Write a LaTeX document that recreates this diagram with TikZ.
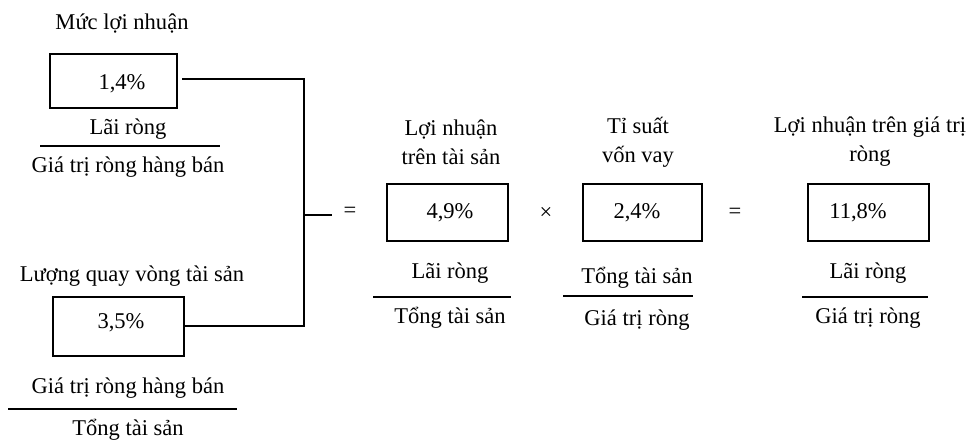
\documentclass[tikz,border=0pt]{standalone}
\usepackage{fontspec}
\setmainfont{Liberation Serif}

\tikzset{every picture/.style={line width=1.5pt}}
\tikzset{txt/.style={inner sep=0.75pt, align=center, font=\fontsize{16.9}{21.75}\selectfont},
  valbox/.style={draw, inner sep=0pt, minimum width=#1*0.75pt, minimum height=57*0.75pt},
  fracline/.style={line width=1.6pt}}

\begin{document}
\begin{tikzpicture}[x=0.75pt,y=0.75pt,yscale=-1,xscale=1]
\useasboundingbox (0,0) rectangle (972,441); %set diagram to 972 x 441

%Shape: Rectangle [id:box1] 
\node [valbox=127, minimum height=54*0.75pt] (box1) at (113.5,81) {};
%Shape: Rectangle [id:box2] 
\node [valbox=131, minimum height=59*0.75pt] (box2) at (118.5,326.5) {};
%Shape: Rectangle [id:box3] 
\node [valbox=121] (box3) at (447.5,212.5) {};
%Shape: Rectangle [id:box4] 
\node [valbox=119] (box4) at (642.5,212.5) {};
%Shape: Rectangle [id:box5] 
\node [valbox=121] (box5) at (868.5,212.5) {};

%Straight Lines [id:join] 
\coordinate (jtop) at (304,79);
\coordinate (jmid) at (304,215);
\coordinate (jout) at (332,215);
\draw    ([xshift=3pt]box1.east |- jtop) -- (jtop) -- (box2.east -| jmid) -- (box2.east) ;
\draw    (jmid) -- (jout) ;

%Straight Lines [id:frac1] 
\draw [fracline]   (40,146) -- (220,146) ;
%Straight Lines [id:frac2] 
\draw [fracline]   (8,409) -- (237,409) ;
%Straight Lines [id:frac3] 
\draw [fracline]   (373,297) -- (511,297) ;
%Straight Lines [id:frac4] 
\draw [fracline]   (563,296) -- (693,296) ;
%Straight Lines [id:frac5] 
\draw [fracline]   (802,297) -- (928,297) ;

% Text Node
\node [txt] (name1) at (122,24) {Mức lợi nhuận};
% Text Node
\node [txt] (val1) at (122,84) {1,4\%};
% Text Node
\node [txt] (num1) at (128,129) {Lãi ròng};
% Text Node
\node [txt] (den1) at (128,167) {Giá trị ròng hàng bán};
% Text Node
\node [txt] (name2) at (132,276) {Lượng quay vòng tài sản};
% Text Node
\node [txt] (val2) at (121,323) {3,5\%};
% Text Node
\node [txt] (num2) at (128,388) {Giá trị ròng hàng bán};
% Text Node
\node [txt] (den2) at (128,430) {Tổng tài sản};
% Text Node
\node [txt] (eq1) at (350,212) {=};
% Text Node
\node [txt] (name3) at (451,142) {Lợi nhuận\\trên tài sản};
% Text Node
\node [txt] (val3) at (450,213) {4,9\%};
% Text Node
\node [txt] (num3) at (450,273) {Lãi ròng};
% Text Node
\node [txt] (den3) at (450,318) {Tổng tài sản};
% Text Node
\node [txt] (times) at (546,213) {×};
% Text Node
\node [txt] (name4) at (638,142) {Tỉ suất\\vốn vay};
% Text Node
\node [txt] (val4) at (637,213) {2,4\%};
% Text Node
\node [txt] (num4) at (637,278) {Tổng tài sản};
% Text Node
\node [txt] (den4) at (637,320) {Giá trị ròng};
% Text Node
\node [txt] (eq2) at (735,213) {=};
% Text Node
\node [txt] (name5) at (870,142) {Lợi nhuận trên giá trị\\ròng};
% Text Node
\node [txt] (val5) at (858,213) {11,8\%};
% Text Node
\node [txt] (num5) at (868,273) {Lãi ròng};
% Text Node
\node [txt] (den5) at (868,318) {Giá trị ròng};
\end{tikzpicture}
\end{document}
